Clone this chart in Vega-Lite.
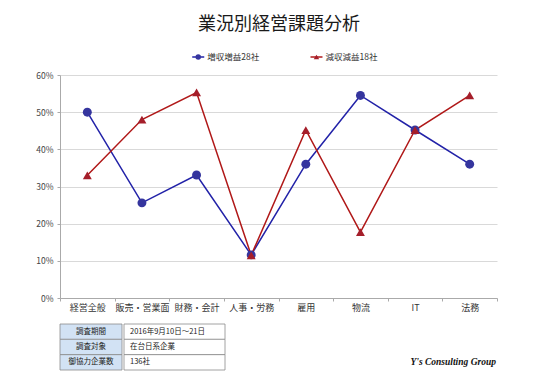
{
  "$schema": "https://vega.github.io/schema/vega-lite/v6.json",
  "background": "white",
  "padding": {"left": 25, "top": 16, "right": 5, "bottom": 5},
  "spacing": 11,
  "align": "none",
  "bounds": "full",
  "title": {
    "text": "業況別経営課題分析",
    "fontSize": 18,
    "fontWeight": "normal",
    "color": "#1a1a1a",
    "anchor": "middle",
    "offset": 16
  },
  "config": {
    "view": {"stroke": null},
    "font": "Noto Sans CJK JP"
  },
  "datasets": {
    "series": [
      {"cat": "経営全般", "s": "増収増益28社", "v": 0.50},
      {"cat": "販売・営業面", "s": "増収増益28社", "v": 0.256},
      {"cat": "財務・会計", "s": "増収増益28社", "v": 0.331},
      {"cat": "人事・労務", "s": "増収増益28社", "v": 0.116},
      {"cat": "雇用", "s": "増収増益28社", "v": 0.36},
      {"cat": "物流", "s": "増収増益28社", "v": 0.545},
      {"cat": "IT", "s": "増収増益28社", "v": 0.452},
      {"cat": "法務", "s": "増収増益28社", "v": 0.36},
      {"cat": "経営全般", "s": "減収減益18社", "v": 0.33},
      {"cat": "販売・営業面", "s": "減収減益18社", "v": 0.48},
      {"cat": "財務・会計", "s": "減収減益18社", "v": 0.553},
      {"cat": "人事・労務", "s": "減収減益18社", "v": 0.115},
      {"cat": "雇用", "s": "減収減益18社", "v": 0.452},
      {"cat": "物流", "s": "減収減益18社", "v": 0.177},
      {"cat": "IT", "s": "減収減益18社", "v": 0.452},
      {"cat": "法務", "s": "減収減益18社", "v": 0.545}
    ],
    "legend": [
      {"s": "増収増益28社"},
      {"s": "減収減益18社"}
    ],
    "table": [
      {"k": "調査期間", "t": "2016年9月10日〜21日"},
      {"k": "調査対象", "t": "在台日系企業"},
      {"k": "御協力企業数", "t": "136社"}
    ],
    "credit": [
      {"k": "御協力企業数", "t": "Y's Consulting Group"}
    ]
  },
  "vconcat": [
    {
      "spacing": 7,
      "align": "none",
      "bounds": "full",
      "vconcat": [
        {
          "width": 473,
          "height": 14,
          "data": {"name": "legend"},
          "encoding": {
            "x": {
              "field": "s",
              "type": "nominal",
              "sort": ["増収増益28社", "減収減益18社"],
              "bandPosition": 0.169,
              "scale": {"type": "band", "paddingInner": 0, "paddingOuter": 1.95625},
              "axis": null
            }
          },
          "layer": [
            {
              "mark": {"type": "point", "shape": "M-1,0H1", "filled": false, "size": 144, "strokeWidth": 1.5, "opacity": 1},
              "encoding": {
                "color": {"field": "s", "type": "nominal", "scale": {"domain": ["増収増益28社", "減収減益18社"], "range": ["#2222a8", "#b01818"]}, "legend": null}
              }
            },
            {
              "mark": {"type": "point", "filled": true, "size": 30, "opacity": 1},
              "encoding": {
                "shape": {"field": "s", "type": "nominal", "scale": {"domain": ["増収増益28社", "減収減益18社"], "range": ["circle", "triangle-up"]}, "legend": null},
                "fill": {"field": "s", "type": "nominal", "scale": {"domain": ["増収増益28社", "減収減益18社"], "range": ["#35359e", "#a51e2a"]}, "legend": null}
              }
            },
            {
              "mark": {"type": "text", "align": "left", "dx": 9, "fontSize": 8.5, "color": "#333333"},
              "encoding": {"text": {"field": "s"}}
            }
          ]
        },
        {
          "width": 437,
          "height": 223,
          "data": {"name": "series"},
          "encoding": {
            "x": {
              "field": "cat",
              "type": "nominal",
              "sort": ["経営全般", "販売・営業面", "財務・会計", "人事・労務", "雇用", "物流", "IT", "法務"],
              "scale": {"type": "band", "paddingInner": 0, "paddingOuter": 0},
              "axis": {
                "title": null,
                "labelAngle": 0,
                "labelFontSize": 9,
                "labelColor": "#333333",
                "labelPadding": 2,
                "tickBand": "extent",
                "tickSize": 3,
                "tickColor": "#aaaaaa",
                "domainColor": "#aaaaaa",
                "grid": false
              }
            },
            "y": {
              "field": "v",
              "type": "quantitative",
              "scale": {"domain": [0, 0.6]},
              "axis": {
                "title": null,
                "values": [0, 0.1, 0.2, 0.3, 0.4, 0.5, 0.6],
                "format": ".0%",
                "labelFontSize": 8.5,
                "labelColor": "#444444",
                "labelPadding": 4,
                "tickSize": 3,
                "tickColor": "#aaaaaa",
                "domainColor": "#aaaaaa",
                "gridColor": "#d9d9d9",
                "gridWidth": 1,
                "minExtent": 35
              }
            },
            "color": {
              "field": "s",
              "type": "nominal",
              "scale": {"domain": ["増収増益28社", "減収減益18社"], "range": ["#2222a8", "#b01818"]},
              "legend": null
            }
          },
          "layer": [
            {"mark": {"type": "line", "strokeWidth": 1.5}},
            {
              "mark": {"type": "point", "filled": true, "size": 80, "opacity": 1},
              "encoding": {
                "shape": {
                  "field": "s",
                  "type": "nominal",
                  "scale": {"domain": ["増収増益28社", "減収減益18社"], "range": ["circle", "triangle-up"]},
                  "legend": null
                },
                "fill": {
                  "field": "s",
                  "type": "nominal",
                  "scale": {"domain": ["増収増益28社", "減収減益18社"], "range": ["#35359e", "#a51e2a"]},
                  "legend": null
                }
              }
            }
          ]
        }
      ]
    },
    {
      "spacing": 0,
      "hconcat": [
        {
          "width": 62,
          "height": 46,
          "data": {"name": "table"},
          "encoding": {
            "y": {"field": "k", "type": "nominal", "sort": ["調査期間", "調査対象", "御協力企業数"], "axis": null, "scale": {"paddingInner": 0, "paddingOuter": 0}}
          },
          "layer": [
            {"mark": {"type": "rect", "fill": "#d2e2f4", "stroke": "#8c8c8c", "strokeWidth": 0.8}},
            {"mark": {"type": "text", "fontSize": 7.5, "color": "#222222"}, "encoding": {"text": {"field": "k"}}}
          ]
        },
        {
          "width": 101,
          "height": 46,
          "data": {"name": "table"},
          "encoding": {
            "y": {"field": "k", "type": "nominal", "sort": ["調査期間", "調査対象", "御協力企業数"], "axis": null, "scale": {"paddingInner": 0, "paddingOuter": 0}}
          },
          "layer": [
            {"mark": {"type": "rect", "fill": "#ffffff", "stroke": "#8c8c8c", "strokeWidth": 0.8}},
            {"mark": {"type": "text", "fontSize": 7.5, "color": "#222222", "align": "left", "dx": -44.5}, "encoding": {"text": {"field": "t"}}}
          ]
        },
        {
          "width": 270,
          "height": 46,
          "data": {"name": "credit"},
          "mark": {"type": "text", "align": "right", "font": "Liberation Serif", "fontStyle": "italic", "fontWeight": "bold", "fontSize": 9.5, "color": "#111111"},
          "encoding": {
            "y": {"field": "k", "type": "nominal", "scale": {"domain": ["調査期間", "調査対象", "御協力企業数"], "paddingInner": 0, "paddingOuter": 0}, "axis": null},
            "x": {"value": "width"},
            "text": {"field": "t"}
          }
        }
      ]
    }
  ]
}
